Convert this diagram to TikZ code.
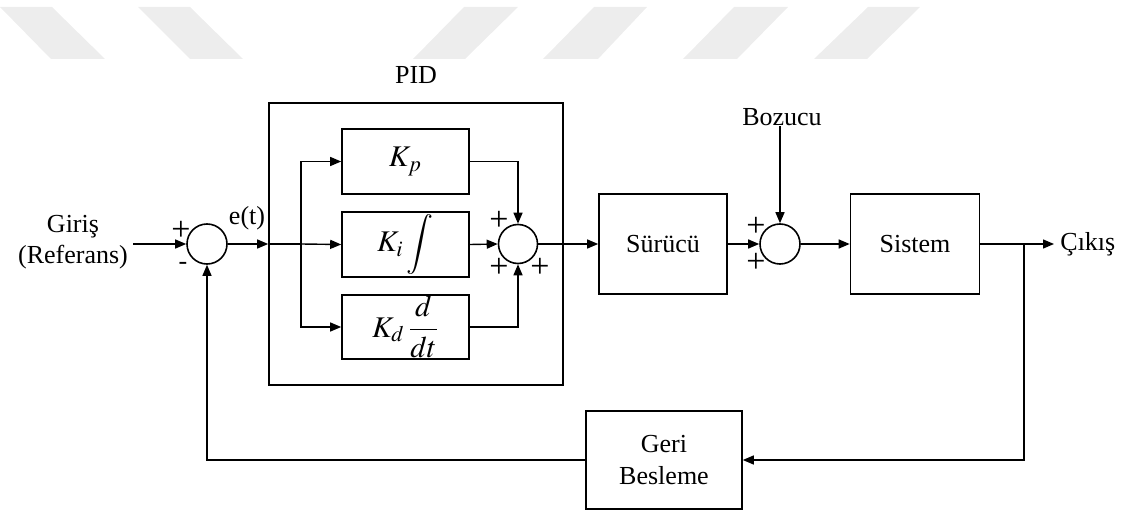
\documentclass[tikz,border=0pt]{standalone}
\usepackage{mathptmx}
\usepackage[no-math]{fontspec}
\setmainfont{Liberation Serif}
\usetikzlibrary{arrows.meta}
\definecolor{wm}{RGB}{237,237,237}
\tikzset{
  blk/.style={draw, line width=0.8pt, inner sep=0pt, align=center},
  mblk/.style={blk, font=\fontsize{15}{18}\selectfont},
  sumc/.style={draw, circle, line width=0.8pt, inner sep=0pt, minimum size=20pt},
  conn/.style={line width=0.7pt},
  arr/.style={line width=0.7pt, -{Triangle[length=5.5pt,width=4.5pt]}},
  sgn/.style={inner sep=0pt, font=\fontsize{17}{17}\selectfont},
  lbl/.style={inner sep=0pt, align=center}
}
\begin{document}
\begin{tikzpicture}[x=0.5pt, y=-0.5pt, font=\fontsize{13}{15.6}\selectfont]
\useasboundingbox (0,0) rectangle (1129,513);
% watermark
\fill[wm] (0,7) -- (52,7) -- (105,59) -- (51,59) -- cycle;
\fill[wm] (138,7) -- (190,7) -- (243,59) -- (190,59) -- cycle;
\fill[wm] (464,7) -- (518,7) -- (465,59) -- (413,59) -- cycle;
\fill[wm] (594,7) -- (647,7) -- (598,59) -- (543,59) -- cycle;
\fill[wm] (734,7) -- (788,7) -- (737,59) -- (683,59) -- cycle;
\fill[wm] (868,7) -- (920,7) -- (867,59) -- (814,59) -- cycle;

% nodes
\node[lbl] (giris) at (73,242) {Giriş\\(Referans)};
\coordinate (in) at (133,244);
\node[sumc] (sum1) at (207,244) {};
\node[blk, minimum width=147pt, minimum height=141pt] (pid) at (416,244) {};
\node[lbl] (pidl) at (416,75) {PID};
\node[lbl] (et) at (247,218) {e(t)};
\coordinate (split) at (301,244);
\node[mblk, minimum width=63.5pt, minimum height=32.5pt] (kp) at (405.5,161.5) {$K_p$};
\node[mblk, minimum width=63.5pt, minimum height=32.5pt] (ki) at (405.5,244.5) {$K_i\displaystyle\int$};
\node[mblk, minimum width=63.5pt, minimum height=32pt] (kd) at (405.5,327) {$K_d\,\displaystyle\frac{d}{dt}$};
\node[sumc, minimum size=19.5pt] (sum2) at (518,244) {};
\node[blk, minimum width=64pt, minimum height=50pt] (sur) at (663,244) {Sürücü};
\node[sumc] (sum3) at (780,244) {};
\node[lbl] (boz) at (782,117) {Bozucu};
\node[blk, minimum width=64.5pt, minimum height=50pt] (sis) at (915,244) {Sistem};
\coordinate (branch) at (1024,244);
\coordinate (out) at (1054,244);
\node[lbl, anchor=west] (cikis) at (1060,244) {Çıkış};
\node[blk, minimum width=78pt, minimum height=49pt] (geri) at (664,460) {Geri\\Besleme};

% signs
\node[sgn] (p1) at (181,231) {+};
\node[lbl] (m1) at (183,266) {-};
\node[sgn] (p2a) at (499,221) {+};
\node[sgn] (p2b) at (499,268) {+};
\node[sgn] (p2c) at (540,268) {+};
\node[sgn] (p3a) at (756,227) {+};
\node[sgn] (p3b) at (756,263) {+};

% connectors
\draw[arr] (in) -- (sum1.west);
\draw[arr] (sum1.east) -- (pid.west);
\draw[conn] (pid.west) -- (split);
\draw[arr] (split) -- (ki.west);
\draw[arr] (split) |- (kp.west);
\draw[arr] (split) |- (kd.west);
\draw[arr] (kp.east) -| (sum2.north);
\draw[arr] (ki.east) -- (sum2.west);
\draw[arr] (kd.east) -| (sum2.south);
\draw[arr] (sum2.east) -- (sur.west);
\draw[arr] (sur.east) -- (sum3.west);
\draw[arr] (sum3 |- boz.south) -- (sum3.north);
\draw[arr] (sum3.east) -- (sis.west);
\draw[arr] (sis.east) -- (out);
\draw[arr] (branch) |- (geri.east);
\draw[arr] (geri.west) -| (sum1.south);
\end{tikzpicture}
\end{document}
